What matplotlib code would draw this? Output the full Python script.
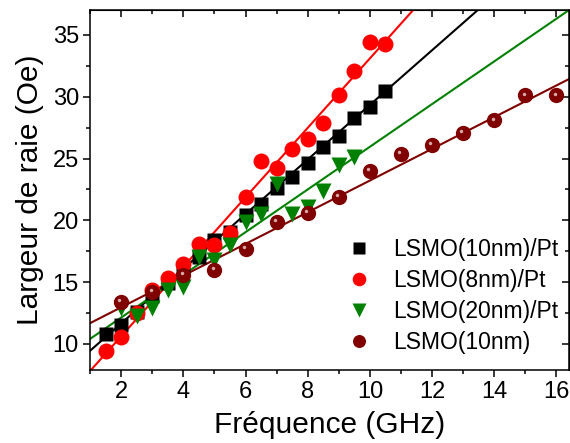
import numpy as np
import matplotlib
matplotlib.use("Agg")
import matplotlib.pyplot as plt
from matplotlib.ticker import MultipleLocator
from matplotlib.transforms import ScaledTranslation

plt.rcParams['font.family'] = ['Liberation Sans', 'DejaVu Sans']

# données
f_pt10 = np.arange(1.5, 10.51, 0.5)
dh_pt10 = [10.8, 11.5, 12.6, 13.9, 14.9, 16.0, 17.0, 18.4, 19.05, 20.4,
           21.3, 22.6, 23.5, 24.6, 25.9, 26.8, 28.3, 29.2, 30.5]

f_pt8 = np.arange(1.5, 10.51, 0.5)
dh_pt8 = [9.4, 10.6, 12.5, 14.35, 15.3, 16.5, 18.1, 18.0, 19.0, 21.9,
          24.8, 24.25, 25.8, 26.6, 27.9, 30.1, 32.1, 34.4, 34.3]

f_pt20 = np.arange(2.0, 9.51, 0.5)
dh_pt20 = [12.9, 12.3, 12.9, 14.4, 14.6, 17.0, 16.8, 18.0, 19.9, 20.5,
           22.9, 20.5, 21.1, 22.4, 24.5, 25.1]

f_ref = np.arange(2, 17, 1)
dh_ref = [13.4, 14.2, 15.6, 16.0, 17.7, 19.9, 20.6, 21.9, 24.0, 25.4,
          26.1, 27.1, 28.1, 30.1, 30.1]

labels = ['LSMO(10nm)/Pt', 'LSMO(8nm)/Pt', 'LSMO(20nm)/Pt', 'LSMO(10nm)']

# ajustements linéaires (pente, ordonnée à l'origine)
fit_pt10 = (2.21, 7.24)
fit_pt8 = (2.81, 5.0)
fit_pt20 = (1.727, 8.68)
fit_ref = (1.282, 10.4)

wine = '#800000'
green = '#008000'

fig = plt.figure(figsize=(5.7, 4.43), dpi=100)
ax = fig.add_axes([0.158, 0.165, 0.84, 0.812])

xfit = np.linspace(1.0, 16.4, 50)
for (a, b), c in [(fit_pt10, 'black'), (fit_pt8, 'red'), (fit_pt20, green), (fit_ref, wine)]:
    ax.plot(xfit, a * xfit + b, color=c, lw=1.5, zorder=2)

ax.plot(f_pt10, dh_pt10, 's', color='black', ms=9.5, mec='none', label=labels[0], zorder=3)
ax.plot(f_pt8, dh_pt8, 'o', color='red', ms=11.5, mec='none', label=labels[1], zorder=3)
ax.plot(f_pt20, dh_pt20, 'v', color=green, ms=11.5, mec='none', label=labels[2], zorder=3)
ax.plot(f_ref, dh_ref, 'o', color=wine, ms=11, mec='none', label=labels[3], zorder=3)
# reflet des billes
shift = ax.transData + ScaledTranslation(-1.2 / 72, 1.2 / 72, fig.dpi_scale_trans)
ax.plot(f_ref, dh_ref, 'o', color='#d8a8a8', ms=2.5, mec='none', transform=shift, zorder=4)

ax.set_xlim(1.0, 16.4)
ax.set_ylim(7.9, 37)
ax.xaxis.set_major_locator(MultipleLocator(2))
ax.xaxis.set_minor_locator(MultipleLocator(1))
ax.yaxis.set_major_locator(MultipleLocator(5))
ax.yaxis.set_minor_locator(MultipleLocator(2.5))
ax.tick_params(which='both', direction='out', width=1.1, labelsize=17, pad=3)
ax.tick_params(which='major', length=5)
ax.tick_params(which='minor', length=2.8)
for s in ax.spines.values():
    s.set_linewidth(1.1)

top = ax.secondary_xaxis('top')
top.xaxis.set_major_locator(MultipleLocator(2))
top.xaxis.set_minor_locator(MultipleLocator(1))
top.tick_params(which='both', direction='in', width=1.1, labeltop=False)
top.tick_params(which='major', length=5)
top.tick_params(which='minor', length=2.8)
right = ax.secondary_yaxis('right')
right.yaxis.set_major_locator(MultipleLocator(5))
right.yaxis.set_minor_locator(MultipleLocator(2.5))
right.tick_params(which='both', direction='in', width=1.1, labelright=False)
right.tick_params(which='major', length=5)
right.tick_params(which='minor', length=2.8)

ax.set_xlabel('Fréquence (GHz)', fontsize=21.5, labelpad=6)
ax.set_ylabel('Largeur de raie (Oe)', fontsize=21.5, labelpad=6)

ax.legend(loc='lower right', bbox_to_anchor=(1.012, 0.0), frameon=False, fontsize=16.5,
          handlelength=1.0, handletextpad=1.0, labelspacing=0.35, markerscale=0.85,
          borderaxespad=0.3)

fig.savefig('out.png', dpi=100)
